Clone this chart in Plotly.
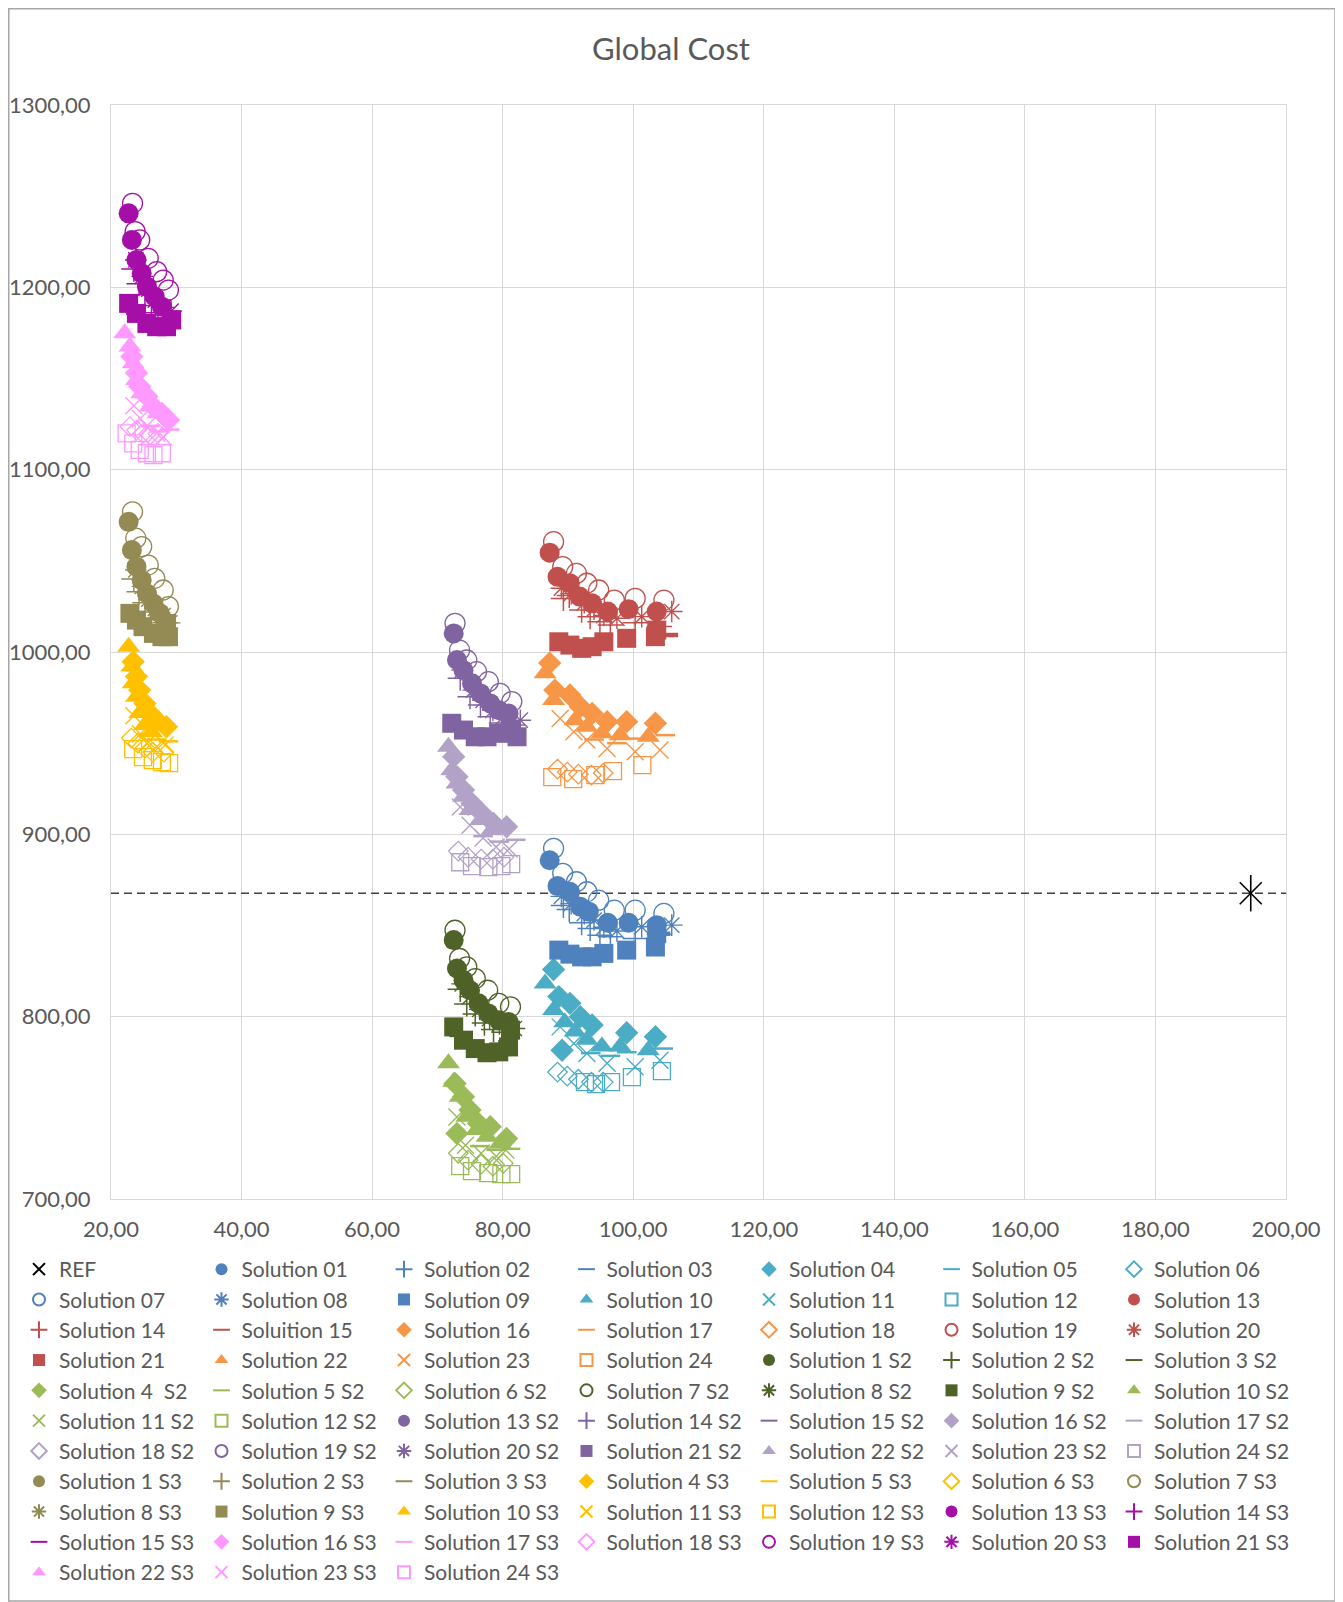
import plotly.graph_objects as go

# ---------------- data ----------------
ref_x = [194.6]
ref_y = [867.7]
ref_line_x = [20, 200]
ref_line_y = [867.7, 867.7]

# Solutions 01-24 (scenario 1)
sol01_x = [87.2, 88.4, 90.3, 91.9, 93.2, 96.1, 99.3, 103.6]
sol01_y = [885.8, 871.6, 868.5, 860.3, 857.6, 851.5, 851.5, 850.2]
sol02_x = [89.3, 90.2, 92.1, 93.4, 94.9, 96.5, 100.3, 104.0]
sol02_y = [861.0, 858.8, 851.5, 848.4, 844.7, 843.8, 842.9, 845.0]
sol03_x = [88.6, 90.3, 92.1, 95.5, 99.0, 104.5]
sol03_y = [838.0, 836.0, 834.5, 836.0, 838.0, 845.5]
sol04_x = [87.8, 88.6, 90.3, 91.9, 93.7, 89.1, 99.0, 103.4]
sol04_y = [825.9, 811.0, 807.3, 800.0, 795.4, 781.6, 791.2, 789.0]
sol05_x = [93.5, 96.5, 99.0, 104.6]
sol05_y = [780.0, 778.5, 780.5, 782.5]
sol06_x = [88.4, 89.9, 91.6, 93.6, 95.4]
sol06_y = [769.6, 767.4, 765.7, 764.1, 764.1]
sol07_x = [87.8, 89.2, 91.3, 92.9, 94.7, 97.1, 100.3, 104.7]
sol07_y = [892.3, 878.6, 874.0, 868.5, 863.9, 858.4, 858.4, 856.6]
sol08_x = [89.0, 90.5, 92.5, 94.0, 95.5, 97.5, 101.3, 105.9]
sol08_y = [866.0, 862.0, 856.5, 853.0, 849.0, 847.0, 849.3, 850.2]
sol09_x = [88.6, 90.3, 92.1, 93.7, 95.5, 99.0, 103.4, 103.6]
sol09_y = [836.5, 834.3, 832.8, 832.8, 834.7, 836.5, 838.2, 845.5]
sol10_x = [86.5, 87.8, 89.5, 91.1, 92.9, 95.2, 98.0, 102.3]
sol10_y = [818.2, 803.6, 797.0, 791.8, 787.3, 783.6, 783.6, 781.6]
sol11_x = [88.8, 90.9, 92.9, 96.0, 100.3, 104.1]
sol11_y = [794.4, 785.3, 779.8, 774.4, 772.5, 776.1]
sol12_x = [92.6, 94.3, 96.6, 99.8, 104.4]
sol12_y = [764.1, 763.0, 764.1, 766.8, 770.1]
sol13_x = [87.2, 88.4, 90.3, 91.8, 93.7, 96.1, 99.3, 103.6]
sol13_y = [1054.5, 1041.3, 1037.7, 1030.4, 1026.7, 1022.2, 1023.5, 1022.2]
sol14_x = [89.3, 90.2, 92.1, 93.4, 94.9, 96.5, 100.3, 104.0]
sol14_y = [1029.4, 1031.0, 1023.0, 1019.4, 1016.6, 1014.8, 1016.0, 1014.0]
sol15_x = [88.6, 92.1, 95.5, 99.0, 105.7]
sol15_y = [1007.0, 1004.0, 1007.0, 1009.0, 1009.3]
sol16_x = [87.2, 88.0, 90.3, 91.9, 93.7, 96.0, 99.0, 103.4]
sol16_y = [993.9, 979.1, 976.4, 970.0, 966.3, 961.8, 961.8, 960.9]
sol17_x = [94.0, 97.5, 100.5, 104.9]
sol17_y = [952.0, 950.0, 952.5, 954.4]
sol18_x = [88.4, 89.9, 91.6, 93.6, 95.4]
sol18_y = [935.8, 934.1, 933.0, 932.5, 933.6]
sol19_x = [87.8, 89.2, 91.3, 92.9, 94.7, 97.1, 100.3, 104.7]
sol19_y = [1060.5, 1046.8, 1043.1, 1037.7, 1034.0, 1028.5, 1029.4, 1028.5]
sol20_x = [89.0, 90.5, 92.5, 94.0, 95.5, 97.5, 101.3, 105.9]
sol20_y = [1035.0, 1032.0, 1027.0, 1023.5, 1020.0, 1018.5, 1019.4, 1022.2]
sol21_x = [88.6, 90.3, 92.1, 93.7, 95.5, 99.0, 103.4, 103.6]
sol21_y = [1005.6, 1003.8, 1002.0, 1002.9, 1005.6, 1007.5, 1008.4, 1012.0]
sol22_x = [86.5, 87.8, 91.1, 92.9, 95.2, 98.0, 102.3]
sol22_y = [988.4, 973.7, 962.6, 959.0, 955.4, 954.4, 953.5]
sol23_x = [88.8, 90.9, 92.9, 96.0, 100.3, 104.1]
sol23_y = [963.5, 956.2, 951.7, 947.1, 945.3, 946.2]
sol24_x = [87.6, 90.8, 94.2, 96.9, 101.4]
sol24_y = [931.4, 930.3, 932.5, 934.7, 938.0]

# Solutions 1-24 S2
s2_01_x = [72.5, 73.0, 74.0, 75.0, 76.3, 77.8, 79.4, 80.9]
s2_01_y = [842.0, 826.4, 820.0, 814.5, 807.3, 801.8, 798.0, 797.1]
s2_02_x = [73.5, 74.5, 75.8, 77.2, 78.6, 80.2]
s2_02_y = [815.0, 807.0, 801.5, 796.5, 793.0, 791.5]
s2_03_x = [73.0, 75.5, 78.0, 80.5]
s2_03_y = [790.0, 786.0, 784.0, 786.0]
s2_04_x = [72.7, 74.0, 75.0, 76.3, 73.0, 78.1, 80.6]
s2_04_y = [763.4, 756.1, 748.8, 741.4, 735.9, 739.6, 733.2]
s2_05_x = [76.5, 79.0, 81.2]
s2_05_y = [729.0, 727.0, 727.5]
s2_06_x = [73.2, 74.7, 76.7, 78.5, 80.1]
s2_06_y = [725.1, 721.3, 719.1, 718.0, 719.6]
s2_07_x = [72.7, 73.4, 74.5, 75.8, 77.7, 79.4, 81.2]
s2_07_y = [847.4, 831.9, 827.3, 820.9, 814.5, 807.3, 805.4]
s2_08_x = [73.8, 75.0, 76.5, 78.0, 79.5, 81.8]
s2_08_y = [818.0, 811.0, 804.0, 799.0, 796.0, 793.5]
s2_09_x = [72.5, 74.0, 75.8, 77.6, 79.4, 80.9, 81.2]
s2_09_y = [794.4, 787.1, 782.5, 780.2, 780.7, 783.4, 792.6]
s2_10_x = [71.7, 72.5, 73.5, 74.5, 76.0, 77.6, 79.6]
s2_10_y = [774.4, 764.3, 756.1, 745.1, 737.8, 734.1, 730.5]
s2_11_x = [73.0, 74.3, 76.7, 79.0, 80.5]
s2_11_y = [745.0, 729.5, 725.1, 723.5, 726.8]
s2_12_x = [73.5, 75.3, 77.8, 79.8, 81.3]
s2_12_y = [718.0, 715.3, 714.2, 713.6, 713.6]
s2_13_x = [72.5, 73.0, 74.0, 75.3, 76.6, 78.1, 79.4, 80.9]
s2_13_y = [1010.2, 995.6, 990.0, 982.8, 977.3, 971.8, 968.1, 966.3]
s2_14_x = [73.5, 75.0, 76.6, 78.1, 79.8, 81.5]
s2_14_y = [985.6, 975.5, 970.9, 964.5, 961.0, 960.0]
s2_15_x = [73.0, 75.5, 78.0, 81.0]
s2_15_y = [958.5, 955.0, 954.0, 956.0]
s2_16_x = [72.5, 73.0, 74.0, 75.3, 76.8, 78.6, 80.6]
s2_16_y = [942.6, 931.6, 924.3, 917.0, 911.5, 906.0, 904.2]
s2_17_x = [77.0, 79.5, 82.0]
s2_17_y = [899.0, 896.0, 897.0]
s2_18_x = [73.2, 74.7, 76.7, 78.5, 80.2]
s2_18_y = [890.8, 887.5, 886.4, 886.4, 887.5]
s2_19_x = [72.7, 73.4, 74.5, 76.0, 77.8, 79.6, 81.4]
s2_19_y = [1015.7, 1001.0, 995.6, 989.2, 983.7, 977.3, 972.8]
s2_20_x = [73.8, 75.5, 77.0, 78.5, 80.0, 82.7]
s2_20_y = [990.1, 979.1, 973.5, 968.0, 964.0, 962.6]
s2_21_x = [72.2, 74.0, 75.8, 77.6, 79.4, 81.2, 82.2]
s2_21_y = [960.9, 957.2, 953.5, 953.5, 955.4, 957.2, 953.5]
s2_22_x = [71.7, 72.2, 73.0, 74.0, 75.0, 76.6, 78.3]
s2_22_y = [948.0, 935.2, 927.9, 920.6, 913.3, 907.8, 902.3]
s2_23_x = [73.5, 75.0, 77.0, 79.0, 81.0]
s2_23_y = [915.0, 905.0, 898.0, 893.0, 892.0]
s2_24_x = [73.5, 75.3, 77.8, 79.8, 81.3]
s2_24_y = [884.7, 882.6, 882.0, 882.6, 883.7]

# Solutions 1-24 S3
s3_01_x = [22.7, 23.2, 23.9, 24.7, 25.5, 26.5, 27.5]
s3_01_y = [1071.4, 1055.9, 1046.8, 1039.4, 1032.1, 1026.6, 1021.2]
s3_02_x = [23.5, 24.3, 25.2, 26.0, 27.0, 28.3]
s3_02_y = [1040.0, 1033.0, 1027.0, 1022.0, 1018.0, 1016.0]
s3_03_x = [23.5, 25.5, 27.5]
s3_03_y = [1018.0, 1012.0, 1010.0]
s3_04_x = [23.4, 23.9, 24.4, 25.2, 26.0, 27.0, 28.5]
s3_04_y = [994.7, 986.5, 979.1, 971.8, 966.3, 962.6, 959.0]
s3_05_x = [25.5, 27.0, 28.8]
s3_05_y = [955.0, 952.0, 951.0]
s3_06_x = [23.1, 24.1, 25.2, 26.4, 28.1]
s3_06_y = [952.8, 950.0, 947.3, 945.1, 945.1]
s3_07_x = [23.3, 23.8, 24.7, 25.7, 26.7, 28.0, 28.8]
s3_07_y = [1076.9, 1062.4, 1057.8, 1047.7, 1040.4, 1034.0, 1024.9]
s3_08_x = [23.8, 24.8, 25.8, 26.8, 28.0, 29.0]
s3_08_y = [1045.0, 1036.0, 1029.0, 1024.0, 1020.0, 1016.0]
s3_09_x = [22.9, 23.9, 24.9, 26.5, 27.8, 28.8, 28.5]
s3_09_y = [1021.2, 1017.5, 1013.9, 1010.2, 1008.4, 1008.4, 1015.7]
s3_10_x = [22.7, 23.2, 23.4, 23.9, 24.4, 25.2, 26.2]
s3_10_y = [1002.9, 992.0, 982.8, 975.5, 966.6, 960.0, 956.0]
s3_11_x = [23.5, 24.5, 25.5, 27.0, 28.3]
s3_11_y = [965.0, 955.0, 950.0, 948.0, 949.0]
s3_12_x = [23.4, 24.9, 26.4, 27.8, 28.9]
s3_12_y = [946.7, 942.3, 940.7, 939.6, 939.0]
s3_13_x = [22.7, 23.2, 23.9, 24.7, 25.5, 26.7, 27.8]
s3_13_y = [1240.6, 1226.0, 1215.0, 1207.7, 1200.4, 1194.9, 1189.4]
s3_14_x = [23.5, 24.3, 25.2, 26.2, 27.2, 28.5]
s3_14_y = [1210.0, 1202.0, 1196.0, 1190.0, 1186.0, 1185.0]
s3_15_x = [23.5, 25.5, 27.5, 29.2]
s3_15_y = [1186.0, 1181.0, 1179.0, 1180.0]
s3_16_x = [23.2, 23.9, 24.4, 25.5, 26.5, 27.8, 28.8]
s3_16_y = [1162.0, 1153.0, 1145.6, 1140.1, 1134.6, 1130.9, 1127.2]
s3_17_x = [26.0, 27.5, 29.0]
s3_17_y = [1124.0, 1121.0, 1122.0]
s3_18_x = [22.9, 23.9, 24.9, 26.0, 27.2]
s3_18_y = [1123.6, 1121.7, 1119.9, 1119.0, 1119.9]
s3_19_x = [23.3, 23.7, 24.4, 25.7, 27.0, 28.0, 28.8]
s3_19_y = [1246.1, 1230.6, 1226.0, 1215.9, 1208.6, 1204.0, 1198.5]
s3_20_x = [23.8, 24.8, 25.8, 26.8, 28.0, 29.2]
s3_20_y = [1215.0, 1206.0, 1199.0, 1193.0, 1189.0, 1187.0]
s3_21_x = [22.7, 23.9, 25.5, 27.0, 28.5, 29.3]
s3_21_y = [1191.2, 1185.7, 1180.2, 1178.4, 1178.4, 1182.1]
s3_22_x = [22.1, 22.9, 23.4, 23.9, 24.7, 26.0, 27.2]
s3_22_y = [1174.8, 1167.5, 1158.4, 1149.2, 1141.9, 1134.6, 1130.9]
s3_23_x = [23.5, 24.5, 25.5, 27.0, 28.0]
s3_23_y = [1135.0, 1128.0, 1124.0, 1120.0, 1118.0]
s3_24_x = [22.4, 23.4, 24.4, 25.5, 26.5, 27.8]
s3_24_y = [1119.9, 1114.4, 1110.8, 1109.0, 1108.0, 1109.0]

names_s1 = ["Solution 01", "Solution 02", "Solution 03", "Solution 04", "Solution 05",
            "Solution 06", "Solution 07", "Solution 08", "Solution 09", "Solution 10",
            "Solution 11", "Solution 12", "Solution 13", "Solution 14", "Soluition 15",
            "Solution 16", "Solution 17", "Solution 18", "Solution 19", "Solution 20",
            "Solution 21", "Solution 22", "Solution 23", "Solution 24"]
names_s2 = ["Solution 1 S2", "Solution 2 S2", "Solution 3 S2", "Solution 4  S2",
            "Solution 5 S2", "Solution 6 S2", "Solution 7 S2", "Solution 8 S2",
            "Solution 9 S2", "Solution 10 S2", "Solution 11 S2", "Solution 12 S2",
            "Solution 13 S2", "Solution 14 S2", "Solution 15 S2", "Solution 16 S2",
            "Solution 17 S2", "Solution 18 S2", "Solution 19 S2", "Solution 20 S2",
            "Solution 21 S2", "Solution 22 S2", "Solution 23 S2", "Solution 24 S2"]
names_s3 = ["Solution 1 S3", "Solution 2 S3", "Solution 3 S3", "Solution 4 S3",
            "Solution 5 S3", "Solution 6 S3", "Solution 7 S3", "Solution 8 S3",
            "Solution 9 S3", "Solution 10 S3", "Solution 11 S3", "Solution 12 S3",
            "Solution 13 S3", "Solution 14 S3", "Solution 15 S3", "Solution 16 S3",
            "Solution 17 S3", "Solution 18 S3", "Solution 19 S3", "Solution 20 S3",
            "Solution 21 S3", "Solution 22 S3", "Solution 23 S3", "Solution 24 S3"]

s1_xs = [sol01_x, sol02_x, sol03_x, sol04_x, sol05_x, sol06_x, sol07_x, sol08_x,
         sol09_x, sol10_x, sol11_x, sol12_x, sol13_x, sol14_x, sol15_x, sol16_x,
         sol17_x, sol18_x, sol19_x, sol20_x, sol21_x, sol22_x, sol23_x, sol24_x]
s1_ys = [sol01_y, sol02_y, sol03_y, sol04_y, sol05_y, sol06_y, sol07_y, sol08_y,
         sol09_y, sol10_y, sol11_y, sol12_y, sol13_y, sol14_y, sol15_y, sol16_y,
         sol17_y, sol18_y, sol19_y, sol20_y, sol21_y, sol22_y, sol23_y, sol24_y]
s2_xs = [s2_01_x, s2_02_x, s2_03_x, s2_04_x, s2_05_x, s2_06_x, s2_07_x, s2_08_x,
         s2_09_x, s2_10_x, s2_11_x, s2_12_x, s2_13_x, s2_14_x, s2_15_x, s2_16_x,
         s2_17_x, s2_18_x, s2_19_x, s2_20_x, s2_21_x, s2_22_x, s2_23_x, s2_24_x]
s2_ys = [s2_01_y, s2_02_y, s2_03_y, s2_04_y, s2_05_y, s2_06_y, s2_07_y, s2_08_y,
         s2_09_y, s2_10_y, s2_11_y, s2_12_y, s2_13_y, s2_14_y, s2_15_y, s2_16_y,
         s2_17_y, s2_18_y, s2_19_y, s2_20_y, s2_21_y, s2_22_y, s2_23_y, s2_24_y]
s3_xs = [s3_01_x, s3_02_x, s3_03_x, s3_04_x, s3_05_x, s3_06_x, s3_07_x, s3_08_x,
         s3_09_x, s3_10_x, s3_11_x, s3_12_x, s3_13_x, s3_14_x, s3_15_x, s3_16_x,
         s3_17_x, s3_18_x, s3_19_x, s3_20_x, s3_21_x, s3_22_x, s3_23_x, s3_24_x]
s3_ys = [s3_01_y, s3_02_y, s3_03_y, s3_04_y, s3_05_y, s3_06_y, s3_07_y, s3_08_y,
         s3_09_y, s3_10_y, s3_11_y, s3_12_y, s3_13_y, s3_14_y, s3_15_y, s3_16_y,
         s3_17_y, s3_18_y, s3_19_y, s3_20_y, s3_21_y, s3_22_y, s3_23_y, s3_24_y]

# ---------------- styles ----------------
SYM = {
    "fcircle": ("circle", 20, 0),
    "plus": ("cross-thin-open", 18, 1.5),
    "dash": ("line-ew-open", 11, 4.5),
    "fdiamond": ("diamond", 18, 0),
    "hdash": ("line-ew-open", 14, 2.5),
    "odiamond": ("diamond-open", 15, 1.3),
    "ocircle": ("circle-open", 20, 1.3),
    "star": ("asterisk-open", 18, 1.4),
    "fsquare": ("square", 19, 0),
    "triangle": ("triangle-up", 20, 0),
    "x": ("x-thin-open", 17, 1.4),
    "osquare": ("square-open", 17, 1.3),
}
pattern = ["fcircle", "plus", "dash", "fdiamond", "hdash", "odiamond",
           "ocircle", "star", "fsquare", "triangle", "x", "osquare"] * 2

s1_colors = ["#4F81BD", "#4BACC6", "#C0504D", "#F79646"]
s2_colors = ["#4F6228", "#9BBB59", "#8064A2", "#B3A2C7"]
s3_colors = ["#948A54", "#FFC000", "#A50FA8", "#FF99FF"]


def color_for(i, palette):
    half = i // 12
    k = i % 12
    light = k in (3, 4, 5, 9, 10, 11)
    return palette[half * 2 + (1 if light else 0)]


fig = go.Figure()

fig.add_trace(go.Scatter(x=ref_line_x, y=ref_line_y, mode="lines",
                         line=dict(color="#404040", width=1.5, dash="8px,5px"),
                         showlegend=False, hoverinfo="skip"))
fig.add_trace(go.Scatter(x=ref_x, y=ref_y, mode="markers", name="REF",
                         legendgroup="ref",
                         marker=dict(symbol="x-thin-open", size=22, color="black",
                                     line=dict(color="black", width=1.6))))
fig.add_trace(go.Scatter(x=ref_x, y=ref_y, mode="markers", name="REF",
                         legendgroup="ref", showlegend=False, hoverinfo="skip",
                         marker=dict(symbol="line-ns-open", size=26, color="black",
                                     line=dict(color="black", width=1.6))))

for names, xs, ys, pal in [(names_s1, s1_xs, s1_ys, s1_colors),
                           (names_s2, s2_xs, s2_ys, s2_colors),
                           (names_s3, s3_xs, s3_ys, s3_colors)]:
    for i, nm in enumerate(names):
        sym, size, lw = SYM[pattern[i]]
        c = color_for(i, pal)
        fig.add_trace(go.Scatter(
            x=xs[i], y=ys[i], mode="markers", name=nm,
            marker=dict(symbol=sym, size=size, color=c,
                        line=dict(color=c, width=lw))))

TXT = "#595959"
FONT = "Lato"

# the page body adds an 8px offset, so the figure is laid out 8px up/left
W, H = 1343, 1602
L, T = 103, 97
R = W - 1278
B = H - 1191
pw, ph = W - L - R, H - T - B


def px_y(y):
    return (H - B - y) / ph


def px_x(x):
    return (x - L) / pw


fig.update_layout(
    width=W, height=H,
    margin=dict(l=L, r=R, t=T, b=B, autoexpand=False),
    paper_bgcolor="white", plot_bgcolor="white",
    separators=",.",
    font=dict(family=FONT, color=TXT, size=21),
    title=dict(text="Global Cost", x=663 / W, xanchor="center", xref="container",
               y=1 - 41 / H, yanchor="middle", yref="container",
               font=dict(family=FONT, size=31, color=TXT)),
    xaxis=dict(range=[20, 200], dtick=20, tick0=20, tickformat=".2f",
               showgrid=True, gridcolor="#D9D9D9", gridwidth=1,
               showline=True, linecolor="#D9D9D9", linewidth=1, mirror=True,
               zeroline=False, ticks="", ticklabelstandoff=11,
               tickfont=dict(family=FONT, size=22, color=TXT)),
    yaxis=dict(range=[700, 1300], dtick=100, tick0=700, tickformat=".2f",
               showgrid=True, gridcolor="#D9D9D9", gridwidth=1,
               showline=True, linecolor="#D9D9D9", linewidth=1, mirror=True,
               zeroline=False, ticks="", ticklabelstandoff=15,
               tickfont=dict(family=FONT, size=22, color=TXT)),
    legend=dict(orientation="h", x=px_x(11), xanchor="left",
                y=px_y(1241), yanchor="top",
                entrywidth=137.5, entrywidthmode="pixels",
                itemsizing="constant", itemwidth=30, tracegroupgap=0,
                font=dict(family=FONT, size=21, color=TXT),
                bgcolor="rgba(0,0,0,0)"),
    showlegend=True,
)

# outer chart border
fig.add_shape(type="rect", xref="paper", yref="paper",
              x0=px_x(0.75), x1=px_x(1327),
              y0=px_y(1593), y1=px_y(0.75),
              line=dict(color="#A6A6A6", width=1.5), fillcolor="rgba(0,0,0,0)",
              layer="below")

fig.write_html("out.html")
